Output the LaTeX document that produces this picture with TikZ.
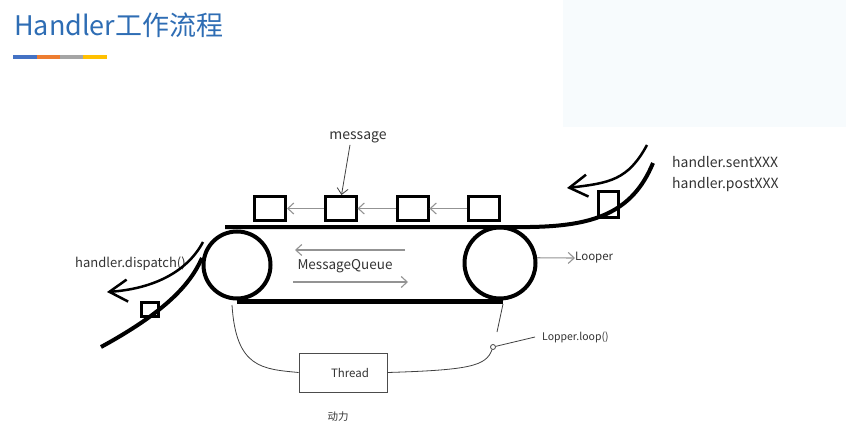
\documentclass[tikz,border=0pt]{standalone}
\usepackage{fontspec}
\setmainfont{Noto Sans CJK SC}
\usetikzlibrary{arrows.meta}
\definecolor{titleblue}{HTML}{2E6DB4}
\definecolor{bgblue}{HTML}{F7FBFD}
\definecolor{barblue}{HTML}{4472C4}
\definecolor{barorange}{HTML}{ED7D31}
\definecolor{bargray}{HTML}{A5A5A5}
\definecolor{baryellow}{HTML}{FFC000}
\definecolor{txt}{HTML}{333333}
\begin{document}
\begin{tikzpicture}[x=1pt,y=-1pt,
  belt/.style={line width=4pt},
  item/.style={draw, line width=3pt, minimum width=31pt, minimum height=24pt, inner sep=0pt},
  roller/.style={draw, circle, line width=4pt, inner sep=0pt},
  thinline/.style={draw=black!75, line width=0.8pt},
  barb/.style={-{Straight Barb[length=6pt,width=11pt]}},
  bigbarb/.style={line width=2.5pt, -{Straight Barb[length=18pt,width=22pt,line width=2.5pt]}},
  garrow/.style={draw=gray!85, line width=1.1pt, barb},
  lbl/.style={text=txt, inner sep=0pt, font=\fontsize{14}{16}\selectfont}
]
\useasboundingbox (0,0) rectangle (846,433);
\fill[bgblue] (563,0) rectangle (846,127);

% title
\node[anchor=base west, inner sep=0pt, text=titleblue, font=\fontsize{27}{30}\selectfont] (title) at (14,36) {Handler工作流程};
\fill[barblue] (13,55) rectangle (37,59);
\fill[barorange] (37,55) rectangle (60,59);
\fill[bargray] (60,55) rectangle (83,59);
\fill[baryellow] (83,55) rectangle (107,59);

% rollers
\node[roller, minimum size=67pt] (lc) at (237,265) {};
\node[roller, minimum size=71pt] (rc) at (500,263) {};

% belts
\draw[belt] (225,227) -- (530,227) .. controls (592,226) and (632,214) .. (653,163);
\draw[line width=5pt] (237,301) -- (503,301);

% messages on the belt
\node[item] (b1) at (270,208.5) {};
\node[item] (b2) at (340.5,208.5) {};
\node[item] (b3) at (412.5,208.5) {};
\node[item] (b4) at (483.5,208.5) {};
\draw[garrow] (b2.west) -- (b1.east);
\draw[garrow] (b3.west) -- (b2.east);
\draw[garrow] (b4.west) -- (b3.east);

% incoming message
\node[item, minimum width=20pt, minimum height=26pt] (bin) at (608.5,204) {};
\draw[bigbarb] (647,145) .. controls (628,180) and (610,183) .. (567,188);
\node[lbl, anchor=west] (sent) at (672,162) {handler.sentXXX};
\node[lbl, anchor=west] (post) at (672,185) {handler.postXXX};

% message label
\node[lbl] (msg) at (358,137) {message};
\draw[thinline, barb] ([xshift=-8pt,yshift=-2pt]msg.south) -- ([xshift=1pt]b2.north);

% MessageQueue
\node[lbl, font=\fontsize{13.5}{16}\selectfont] (mq) at (345,266) {MessageQueue};
\draw[garrow] (405,250) -- (295,250);
\draw[garrow] (293,282) -- (408,282);

% Looper
\node[lbl, anchor=west, font=\fontsize{11.5}{13}\selectfont] (looper) at (575,258) {Looper};
\draw[garrow] (rc.8) -- (looper.west);

% dispatch side
\node[lbl, anchor=west, font=\fontsize{13}{15}\selectfont] (disp) at (75,264) {handler.dispatch()};
\draw[bigbarb] (203,242) .. controls (186,274) and (150,289) .. (107,292);
\draw[belt] (202,258) .. controls (190,285) and (165,312) .. (101,347);
\node[item, minimum width=17pt, minimum height=14pt] (bout) at (150,309.5) {};

% thread
\node[draw=black!70, line width=0.9pt, minimum width=88pt, minimum height=39pt, inner sep=0pt,
      text=txt, font=\fontsize{11.5}{13}\selectfont] (thread) at (343,372.5) {\hspace{14pt}Thread};
\draw[thinline] (232,305) .. controls (236,368) and (262,369) .. (thread.west);
\node[draw=black!75, circle, line width=0.8pt, minimum size=5pt, inner sep=0pt, fill=white] (lp) at (493,347) {};
\draw[thinline] (thread.east) .. controls (470,370) and (486,366) .. (lp);
\draw[thinline] (503,304) -- (497,332);
\node[lbl, anchor=west, font=\fontsize{10.5}{12}\selectfont] (loop) at (542,337) {Lopper.loop()};
\draw[thinline] (lp) -- (535,337);
\node[lbl, font=\fontsize{10.5}{12}\selectfont] (power) at (338,417) {动力};
\end{tikzpicture}
\end{document}
